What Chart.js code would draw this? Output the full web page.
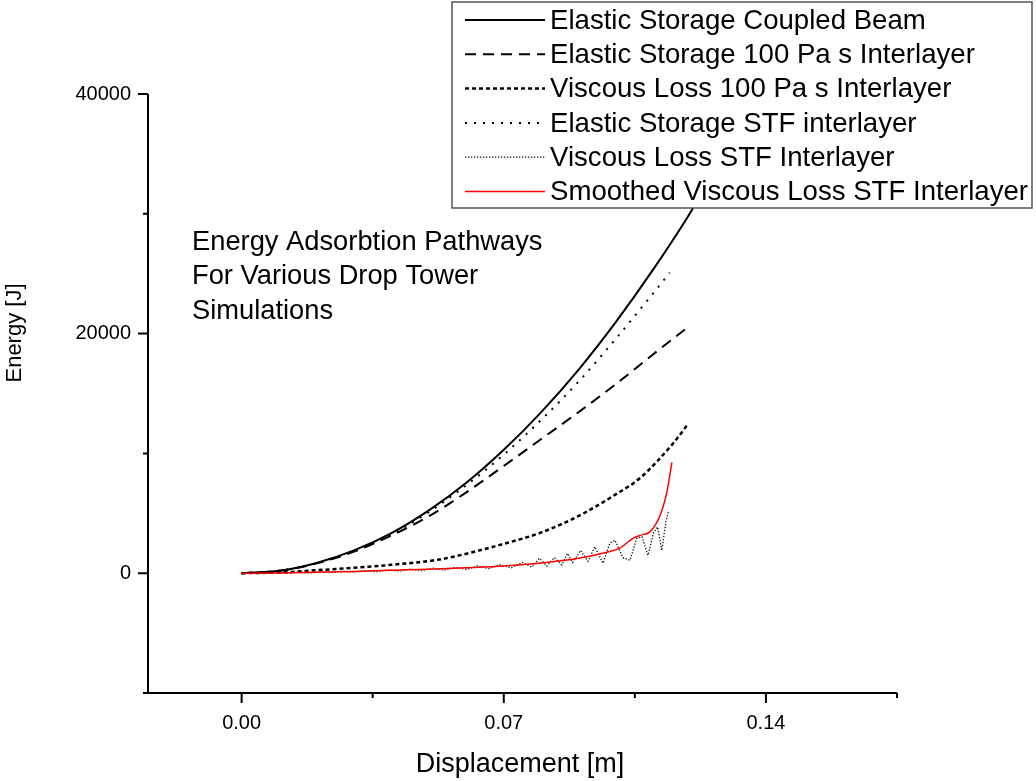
<!DOCTYPE html>
<html>
<head>
<meta charset="utf-8">
<script src="https://cdn.jsdelivr.net/npm/chart.js@4.4.1/dist/chart.umd.min.js"></script>
<style>
  html, body { margin: 0; padding: 0; background: #fff; }
  #wrap { width: 1036px; height: 781px; }
</style>
</head>
<body>
<div id="wrap"><canvas id="chart" width="1036" height="781"></canvas></div>
<script>
// axis ticks
const xMajor = [0, 0.07, 0.14];
const xMinor = [0.035, 0.105, 0.175];
const xLabels = ['0.00', '0.07', '0.14'];
const yMajor = [0, 20000, 40000];
const yMinor = [-10000, 10000, 30000];
const yLabels = ['0', '20000', '40000'];

// Elastic Storage Coupled Beam
const beamX = [0, 0.01, 0.02, 0.03, 0.04, 0.05, 0.06, 0.07, 0.08, 0.09, 0.1, 0.11, 0.12, 0.122];
const beamE = [0, 200, 850, 1900, 3350, 5250, 7550, 10300, 13450, 17000, 21000, 25400, 30200, 31300];

// Elastic Storage 100 Pa s Interlayer
const es100X = [0, 0.01, 0.02, 0.03, 0.04, 0.05, 0.06, 0.07, 0.08, 0.09, 0.1, 0.11, 0.1197];
const es100E = [0, 200, 820, 1800, 3150, 4750, 6750, 8950, 11200, 13450, 15800, 18300, 20670];

// Viscous Loss 100 Pa s Interlayer
const vl100X = [0, 0.01, 0.02, 0.03, 0.04, 0.0529, 0.07, 0.08, 0.0903, 0.1, 0.1063, 0.1152, 0.1189];
const vl100E = [0, 60, 250, 450, 700, 1150, 2450, 3400, 4830, 6600, 7920, 10830, 12330];

// Elastic Storage STF interlayer
const esStfX = [0, 0.01, 0.02, 0.03, 0.04, 0.05, 0.06, 0.07, 0.08, 0.09, 0.1, 0.11, 0.1143];
const esStfE = [0, 200, 830, 1850, 3250, 5100, 7350, 9900, 12800, 16000, 19600, 23400, 25080];

// Viscous Loss STF Interlayer (raw, noisy)
const vlStfX = [0, 0.003, 0.006, 0.009, 0.012, 0.015, 0.018, 0.021, 0.024, 0.027, 0.03, 0.033,
  0.036, 0.039, 0.042, 0.045, 0.048, 0.051, 0.054, 0.057, 0.06, 0.063, 0.066, 0.069, 0.072, 0.075,
  0.0775, 0.0795, 0.0815, 0.0835, 0.0855, 0.087, 0.0884, 0.0905, 0.0925, 0.0943, 0.0965, 0.0983,
  0.0997, 0.1018, 0.1037, 0.1055, 0.1069, 0.1085, 0.11, 0.1111, 0.1122, 0.1133, 0.114];
const vlStfE = [0, 20, -20, 50, 10, 80, 20, 110, 50, 150, 100, 200,
  130, 260, 180, 330, 220, 420, 260, 480, 330, 600, 380, 700, 450, 900,
  500, 1250, 600, 1300, 700, 1650, 900, 1900, 1000, 2200, 830, 2500,
  2750, 1300, 1080, 2900, 3050, 1500, 3400, 3850, 1900, 4300, 5200];

// Smoothed Viscous Loss STF Interlayer
const smX = [0, 0.01, 0.02, 0.03, 0.04, 0.05, 0.06, 0.07, 0.08, 0.09, 0.0975, 0.101, 0.1045, 0.1063, 0.109, 0.1117, 0.1135, 0.1149];
const smE = [0, 20, 70, 150, 250, 330, 450, 600, 850, 1250, 1750, 2100, 2900, 3150, 3450, 4800, 6700, 9250];

const annotation = ['Energy Adsorbtion Pathways', 'For Various Drop Tower', 'Simulations'];

const FONT = '"Liberation Sans", Arial, sans-serif';
const pts = (xs, ys) => xs.map((x, i) => ({ x, y: ys[i] }));

const series = [
  { label: 'Elastic Storage Coupled Beam', data: pts(beamX, beamE), borderColor: '#000', borderWidth: 2, borderDash: [], smooth: true, order: 5 },
  { label: 'Elastic Storage 100 Pa s Interlayer', data: pts(es100X, es100E), borderColor: '#000', borderWidth: 2, borderDash: [11, 7], smooth: true, order: 4 },
  { label: 'Viscous Loss 100 Pa s Interlayer', data: pts(vl100X, vl100E), borderColor: '#000', borderWidth: 2.5, borderDash: [4, 3], smooth: true, order: 3 },
  { label: 'Elastic Storage STF interlayer', data: pts(esStfX, esStfE), borderColor: '#000', borderWidth: 2, borderDash: [2, 7], smooth: true, order: 2 },
  { label: 'Viscous Loss STF Interlayer', data: pts(vlStfX, vlStfE), borderColor: '#111', borderWidth: 1.3, borderDash: [1.3, 1.7], smooth: false, order: 1 },
  { label: 'Smoothed Viscous Loss STF Interlayer', data: pts(smX, smE), borderColor: '#ff0000', borderWidth: 1.5, borderDash: [], smooth: true, order: 0 },
];

const decor = {
  id: 'decor',
  afterDraw(chart) {
    const { ctx, scales: { x, y } } = chart;
    const x0 = x.getPixelForValue(-0.025), x1 = x.getPixelForValue(0.175);
    const yb = y.getPixelForValue(-10000), yt = y.getPixelForValue(40000);
    ctx.save();
    ctx.strokeStyle = '#000';
    ctx.lineWidth = 2;
    ctx.beginPath();
    ctx.moveTo(x0, yt); ctx.lineTo(x0, yb); ctx.lineTo(x1, yb);
    xMajor.forEach((v) => { const p = x.getPixelForValue(v); ctx.moveTo(p, yb); ctx.lineTo(p, yb + 10); });
    xMinor.forEach((v) => { const p = x.getPixelForValue(v); ctx.moveTo(p, yb); ctx.lineTo(p, yb + 5); });
    yMajor.forEach((v) => { const p = y.getPixelForValue(v); ctx.moveTo(x0, p); ctx.lineTo(x0 - 10, p); });
    yMinor.forEach((v) => { const p = y.getPixelForValue(v); ctx.moveTo(x0, p); ctx.lineTo(x0 - 5, p); });
    ctx.stroke();

    ctx.fillStyle = '#000';
    ctx.font = '20px ' + FONT;
    ctx.textAlign = 'center';
    ctx.textBaseline = 'middle';
    xMajor.forEach((v, i) => ctx.fillText(xLabels[i], x.getPixelForValue(v), yb + 30));
    ctx.textAlign = 'right';
    yMajor.forEach((v, i) => ctx.fillText(yLabels[i], x0 - 17, y.getPixelForValue(v)));

    ctx.textAlign = 'center';
    ctx.font = '27px ' + FONT;
    ctx.fillText('Displacement [m]', 520, 765);
    ctx.font = '22px ' + FONT;
    ctx.save();
    ctx.translate(15, 333);
    ctx.rotate(-Math.PI / 2);
    ctx.fillText('Energy [J]', 0, 0);
    ctx.restore();

    ctx.font = '27.3px ' + FONT;
    ctx.textAlign = 'left';
    annotation.forEach((t, i) => ctx.fillText(t, 192, 242 + i * 34.5));

    // legend box
    ctx.fillStyle = '#fff';
    ctx.fillRect(452, 2, 580, 206);
    ctx.strokeStyle = '#555';
    ctx.lineWidth = 1.5;
    ctx.strokeRect(452, 2, 580, 206);
    ctx.font = '27.6px ' + FONT;
    series.forEach((s, i) => {
      const ly = 20 + i * 34.3;
      ctx.save();
      ctx.strokeStyle = s.borderColor;
      ctx.lineWidth = s.borderWidth;
      ctx.setLineDash(s.borderDash);
      ctx.beginPath();
      ctx.moveTo(465, ly); ctx.lineTo(545, ly);
      ctx.stroke();
      ctx.restore();
      ctx.fillStyle = '#000';
      ctx.fillText(s.label, 550, ly + 1);
    });
    ctx.restore();
  }
};

new Chart(document.getElementById('chart'), {
  type: 'line',
  data: {
    datasets: series.map((s) => ({
      label: s.label,
      data: s.data,
      borderColor: s.borderColor,
      borderWidth: s.borderWidth,
      borderDash: s.borderDash,
      cubicInterpolationMode: s.smooth ? 'monotone' : 'default',
      tension: 0,
      pointRadius: 0,
      fill: false,
      order: s.order,
    })),
  },
  options: {
    responsive: false,
    animation: false,
    devicePixelRatio: 1,
    layout: { padding: { left: 148, right: 139, top: 94, bottom: 88 } },
    plugins: { legend: { display: false }, tooltip: { enabled: false } },
    scales: {
      x: { type: 'linear', min: -0.025, max: 0.175, display: false },
      y: { type: 'linear', min: -10000, max: 40000, display: false },
    },
  },
  plugins: [decor],
});
</script>
</body>
</html>
